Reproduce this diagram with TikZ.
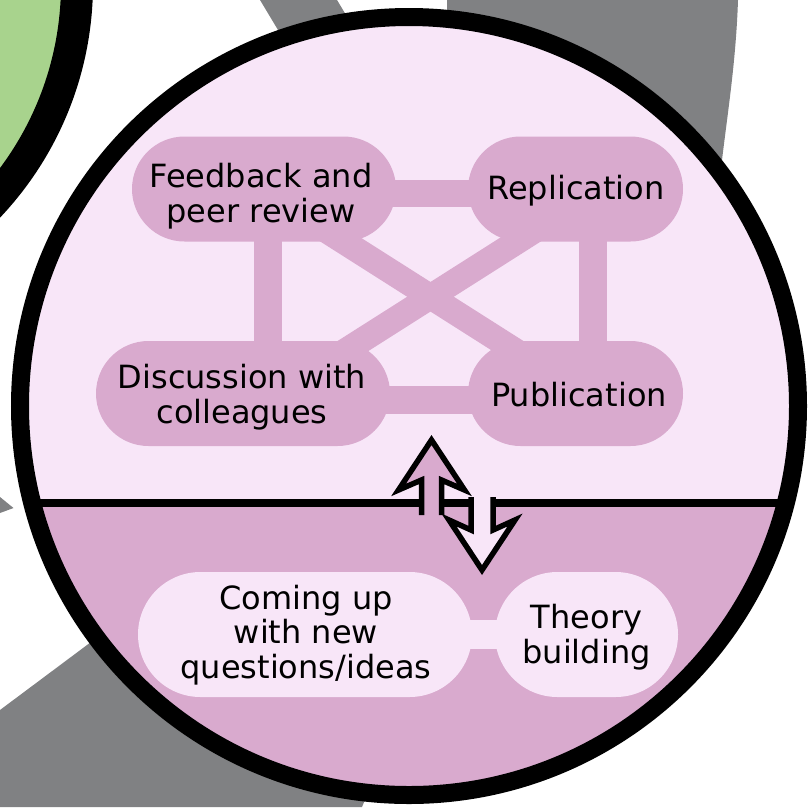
\documentclass[tikz,border=0pt]{standalone}
\usepackage{fontspec}
\setmainfont{DejaVu Sans}
\definecolor{lpink}{RGB}{248,230,248}
\definecolor{mpink}{RGB}{217,170,206}
\definecolor{bggrey}{RGB}{128,129,131}
\definecolor{leaf}{RGB}{168,211,141}
\pgfdeclarelayer{back}
\pgfdeclarelayer{mid}
\pgfsetlayers{back,mid,main}
\begin{document}
\begin{tikzpicture}[x=1pt,y=-1pt,
  box/.style={rectangle, inner sep=0pt, draw=none},
  upbox/.style={box, fill=mpink, rounded corners=52.5pt, minimum height=105pt},
  lowbox/.style={box, fill=lpink, rounded corners=62.5pt, minimum height=125pt},
  lbl/.style={inner sep=0pt, align=center, text=black, font=\fontsize{32}{34.5}\selectfont},
  conn/.style={draw=mpink, line width=27.5pt},
  diag/.style={draw=mpink, line width=25pt},
  lconn/.style={draw=lpink, line width=29pt},
  arr/.style={draw=black, line width=5.5pt, miter limit=10, line join=miter}]
\useasboundingbox (0,0) rectangle (808,807);
\begin{pgfonlayer}{back}
\clip (0,0) rectangle (808,807);
\fill[white] (0,0) rectangle (808,807);
\fill[bggrey] (260,0) -- (337,0) -- (373,60) -- (296,60) -- cycle;
\fill[bggrey] (447,0) -- (738,0) .. controls (736,60) and (728,110) .. (722,160) -- (700,220) -- (452,220) -- cycle;
\fill[bggrey] (0,710) -- (150,598) -- (390,740) -- (362,807) -- (0,807) -- cycle;
\fill[bggrey] (0,497) -- (13.5,508) -- (0,513) -- cycle;
\draw[fill=leaf, line width=32pt] (-247,-16) circle[radius=324pt];
\coordinate (c) at (409,406);
\fill[lpink] (c) circle[radius=389pt];
\begin{scope}
\clip (c) circle[radius=389pt];
\fill[mpink] (0,503) rectangle (808,807);
\draw[line width=7.5pt] (0,503) -- (808,503);
\end{scope}
\draw[line width=18pt] (c) circle[radius=389pt];
\end{pgfonlayer}
% nodes
\node[upbox, minimum width=264pt] (fb) at (264,189) {};
\node[upbox, minimum width=215pt] (rep) at (575.5,189) {};
\node[upbox, minimum width=294pt] (dis) at (243,393.5) {};
\node[upbox, minimum width=215pt] (pub) at (575.5,393.5) {};
\node[lowbox, minimum width=334pt] (com) at (305,634.5) {};
\node[lowbox, minimum width=183pt] (the) at (586.5,634.5) {};
% labels
\node[lbl] at (261,196) {Feedback and\\peer review};
\node[lbl] at (576,191) {Replication};
\node[lbl] at (242,397) {Discussion with\\colleagues};
\node[lbl] at (579,395) {Publication};
\node[lbl] at (306,635) {Coming up\\with new\\questions/ideas};
\node[lbl] at (586.5,637) {Theory\\building};
% connectors
\begin{pgfonlayer}{mid}
\path (268,0) coordinate (lx) (593,0) coordinate (rx);
\path ([yshift=-4.5pt]fb.center) coordinate (fbb)
      ([yshift=-4.5pt]rep.center) coordinate (repb)
      ([yshift=-6.5pt]dis.center) coordinate (disb)
      ([yshift=-6.5pt]pub.center) coordinate (pubb);
\draw[conn] (fbb) -- (repb);
\draw[conn] (disb) -- (pubb);
\draw[conn] (fb.center -| lx) -- (dis.center -| lx);
\draw[conn] (rep.center -| rx) -- (pub.center -| rx);
\draw[diag] (fbb -| lx) -- (pubb -| rx);
\draw[diag] (repb -| rx) -- (disb -| lx);
\draw[lconn] (com.center) -- (the.center);
\end{pgfonlayer}
% double arrow
\fill[lpink] (471,497) -- (471,530) -- (449,520) -- (482,570) -- (515,520) -- (493,530) -- (493,497) -- cycle;
\draw[arr] (471,497) -- (471,530) -- (449,520) -- (482,570) -- (515,520) -- (493,530) -- (493,497);
\fill[mpink] (421.5,515) -- (421.5,480) -- (398.5,490) -- (431.5,440) -- (464.5,490) -- (441.5,480) -- (441.5,515) -- cycle;
\draw[arr] (421.5,515) -- (421.5,480) -- (398.5,490) -- (431.5,440) -- (464.5,490) -- (441.5,480) -- (441.5,515);
\end{tikzpicture}
\end{document}
